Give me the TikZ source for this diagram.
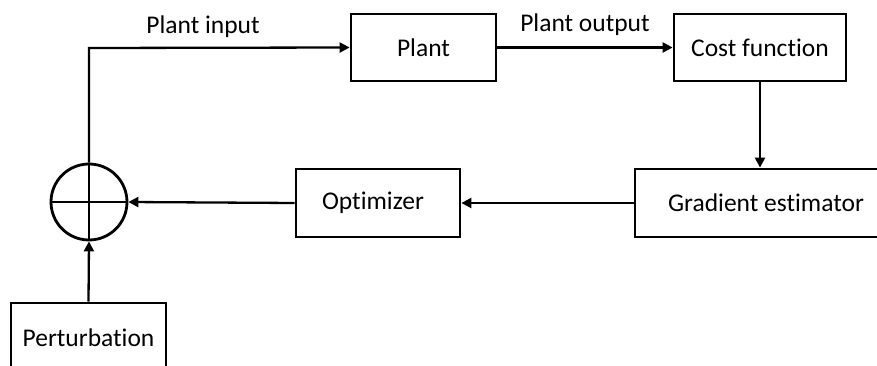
\documentclass[tikz,border=0pt]{standalone}
\usepackage{fontspec}
\setmainfont{Carlito}[Ligatures=NoCommon]
\usetikzlibrary{arrows.meta,calc}
\begin{document}
\begin{tikzpicture}[x=1pt,y=-1pt,
  blk/.style={draw=black,line width=2.8pt,minimum width=#1,inner sep=0pt,font=\fontsize{25.5}{30}\selectfont},
  conn/.style={line width=2.3pt,-{Triangle[length=10pt,width=10pt]}},
  lbl/.style={font=\fontsize{25.5}{30}\selectfont,inner sep=0pt}]
\useasboundingbox (0,0) rectangle (877,366);
\clip (0,0) rectangle (877,366);
\node[blk=145pt,minimum height=67pt] (plant) at (423.5,47.5) {Plant};
\node[blk=172pt,minimum height=67pt] (cost) at (760,47.5) {Cost function};
\node[blk=262pt,minimum height=68pt] (grad) at (766,203) {Gradient estimator};
\node[blk=164pt,minimum height=68pt] (opt) at (378,203) {\hspace*{-10pt}Optimizer};
\node[blk=155pt,minimum height=70pt] (pert) at (88.5,338) {Perturbation};
\node[draw=black,line width=2.8pt,circle,minimum size=76pt,inner sep=0pt] (sum) at (89,202) {};
\draw[line width=2.3pt] (sum.west) -- (sum.east);
\draw[line width=2.3pt] (sum.north) -- (sum.south);
\coordinate (corner) at (89,48);
\draw[conn] (sum.north) -- (corner) -- (plant.west);
\draw[conn] (plant.east) -- (cost.west);
\draw[conn] (cost.south) -- (cost.south |- grad.north);
\draw[conn] (grad.west) -- (opt.east);
\draw[conn] (opt.west) -- (sum.east);
\draw[conn] (pert.north) -- (sum.south);
\node[lbl] (pin) at (203,27) {Plant input};
\node[lbl] (pout) at (585,25) {Plant output};
\end{tikzpicture}
\end{document}
